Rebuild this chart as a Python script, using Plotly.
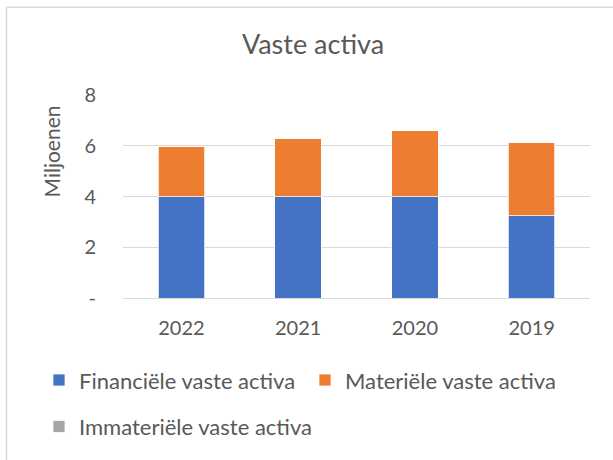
import plotly.graph_objects as go

# data (miljoenen)
jaren = ["2022", "2021", "2020", "2019"]
financiele = [4.00, 4.00, 3.99, 3.24]
materiele = [1.99, 2.30, 2.60, 2.89]
immateriele = [0.0, 0.0, 0.0, 0.0]

y_ticks = [0, 2, 4, 6, 8]
y_ticktext = ["-", "2", "4", "6", "8"]

FONT = "Lato"
GREY = "#595959"

# plot area in pixels: x 123..590, y 95..300
L, R, T, B = 123, 23, 95, 160
PW, PH = 613 - L - R, 460 - T - B


def px_x(px):
    return (px - L) / PW


def px_y(py):
    return (460 - B - py) / PH


fig = go.Figure()
fig.add_trace(go.Bar(x=jaren, y=financiele, name="Financiële vaste activa",
                     marker=dict(color="#4472C4", line=dict(color="#ffffff", width=0.75)),
                     legend="legend"))
fig.add_trace(go.Bar(x=jaren, y=materiele, name="Materiële vaste activa",
                     marker=dict(color="#ED7D31", line=dict(color="#ffffff", width=0.75)),
                     legend="legend"))
fig.add_trace(go.Bar(x=jaren, y=immateriele, name="Immateriële vaste activa",
                     marker=dict(color="#A5A5A5", line=dict(color="#ffffff", width=0.75)),
                     legend="legend2"))

legend_style = dict(orientation="h", xanchor="left", yanchor="middle",
                    traceorder="normal",
                    bgcolor="rgba(0,0,0,0)", borderwidth=0,
                    font=dict(family=FONT, size=22, color=GREY),
                    itemclick=False)

fig.update_layout(
    width=613, height=460,
    margin=dict(l=L, r=R, t=T, b=B),
    paper_bgcolor="white", plot_bgcolor="white",
    barmode="stack", bargap=0.6,
    font=dict(family=FONT, color=GREY),
    title=dict(text="Vaste activa", x=313 / 613, xanchor="center",
               y=1 - 45 / 460, yanchor="middle", yref="container",
               font=dict(family=FONT, size=27, color=GREY)),
    legend=dict(legend_style, x=px_x(39), y=px_y(383), entrywidth=221),
    legend2=dict(legend_style, x=px_x(39), y=px_y(430)),
    xaxis=dict(showgrid=False, showline=False, zeroline=False, ticks="",
               ticklabelstandoff=16,
               tickfont=dict(family=FONT, size=20, color=GREY)),
    yaxis=dict(range=[0, 8], tickvals=y_ticks, ticktext=y_ticktext,
               showgrid=True, gridcolor="#d9d9d9", gridwidth=1.2,
               zeroline=True, zerolinecolor="#d9d9d9", zerolinewidth=1.2,
               showline=False, ticks="", ticklabelstandoff=26,
               tickfont=dict(family=FONT, size=20, color=GREY)),
    annotations=[dict(text="Miljoenen", x=px_x(51), y=px_y(152), xref="paper", yref="paper",
                      xanchor="center", yanchor="middle",
                      textangle=-90, showarrow=False,
                      font=dict(family=FONT, size=21, color=GREY))],
    shapes=[
        dict(type="line", xref="paper", yref="paper", x0=px_x(6.5), x1=px_x(620),
             y0=px_y(6.5), y1=px_y(6.5), line=dict(color="#d9d9d9", width=1.5)),
        dict(type="line", xref="paper", yref="paper", x0=px_x(6.5), x1=px_x(6.5),
             y0=px_y(6.5), y1=px_y(470), line=dict(color="#d9d9d9", width=1.5)),
    ],
)

# the page body has a default 8px margin; drop it so the figure fills the window
fig.write_html("out.html", config={"displayModeBar": False},
               post_script="document.body.style.margin='0';")
